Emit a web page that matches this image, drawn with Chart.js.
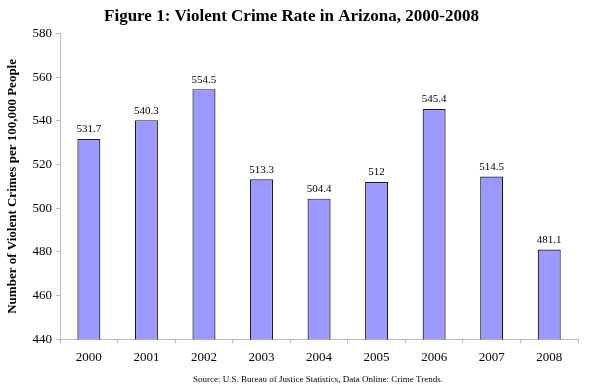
<!DOCTYPE html>
<html lang="en">
<head>
    <meta charset="UTF-8">
    <title>Violent Crime Rate in Arizona</title>
    <script src="https://cdn.jsdelivr.net/npm/chart.js"></script>
    <style>
        html, body { margin: 0; padding: 0; background: #fff; }
        .chart-container { width: 590px; height: 389px; }
    </style>
</head>
<body>
    <div class="chart-container">
        <canvas id="crimeChart"></canvas>
    </div>

    <script>
        // Values
        const years = ['2000', '2001', '2002', '2003', '2004', '2005', '2006', '2007', '2008'];
        const crimeRates = [531.7, 540.3, 554.5, 513.3, 504.4, 512, 545.4, 514.5, 481.1];
        const yTicks = [440, 460, 480, 500, 520, 540, 560, 580];

        const serif = '"Liberation Serif", "Times New Roman", serif';

        // Value labels above each bar + source line under the chart
        const extras = {
            id: 'extras',
            afterDatasetsDraw(chart) {
                const ctx = chart.ctx;
                const meta = chart.getDatasetMeta(0);
                ctx.save();
                ctx.fillStyle = '#000';
                ctx.font = '11px ' + serif;
                ctx.textAlign = 'center';
                ctx.textBaseline = 'bottom';
                meta.data.forEach((bar, i) => {
                    ctx.fillText(String(crimeRates[i]), bar.x, bar.y - 4);
                });
                ctx.font = '9px ' + serif;
                ctx.textBaseline = 'middle';
                ctx.fillText('Source: U.S. Bureau of Justice Statistics, Data Online: Crime Trends.', 318, 380);
                ctx.restore();
            }
        };

        const ctx = document.getElementById('crimeChart').getContext('2d');
        new Chart(ctx, {
            type: 'bar',
            data: {
                labels: years,
                datasets: [{
                    data: crimeRates,
                    backgroundColor: '#9999ff',
                    borderColor: '#1a1a1a',
                    borderWidth: 1.2,
                    borderSkipped: false,
                    categoryPercentage: 1,
                    barPercentage: 0.4
                }]
            },
            options: {
                responsive: true,
                maintainAspectRatio: false,
                animation: false,
                layout: { padding: { left: 5, right: 12, top: 0, bottom: 18 } },
                scales: {
                    y: {
                        min: 440,
                        max: 580,
                        afterBuildTicks: axis => { axis.ticks = yTicks.map(v => ({ value: v })); },
                        border: { color: '#bbb' },
                        grid: { drawOnChartArea: false, color: '#bbb', tickLength: 4 },
                        ticks: { color: '#000', font: { family: serif, size: 13 }, padding: 4 },
                        title: {
                            display: true,
                            text: 'Number of Violent Crimes per 100,000 People',
                            color: '#000',
                            font: { family: serif, size: 13, weight: 'bold' },
                            padding: { top: 0, bottom: 8 }
                        }
                    },
                    x: {
                        border: { color: '#bbb' },
                        grid: { drawOnChartArea: false, color: '#bbb', tickLength: 4 },
                        ticks: { color: '#000', font: { family: serif, size: 13 }, padding: 6 }
                    }
                },
                plugins: {
                    legend: { display: false },
                    tooltip: { enabled: false },
                    title: {
                        display: true,
                        text: 'Figure 1: Violent Crime Rate in Arizona, 2000-2008',
                        color: '#000',
                        font: { family: serif, size: 17, weight: 'bold' },
                        padding: { top: 6, bottom: 7 }
                    }
                }
            },
            plugins: [extras]
        });
    </script>
</body>
</html>
